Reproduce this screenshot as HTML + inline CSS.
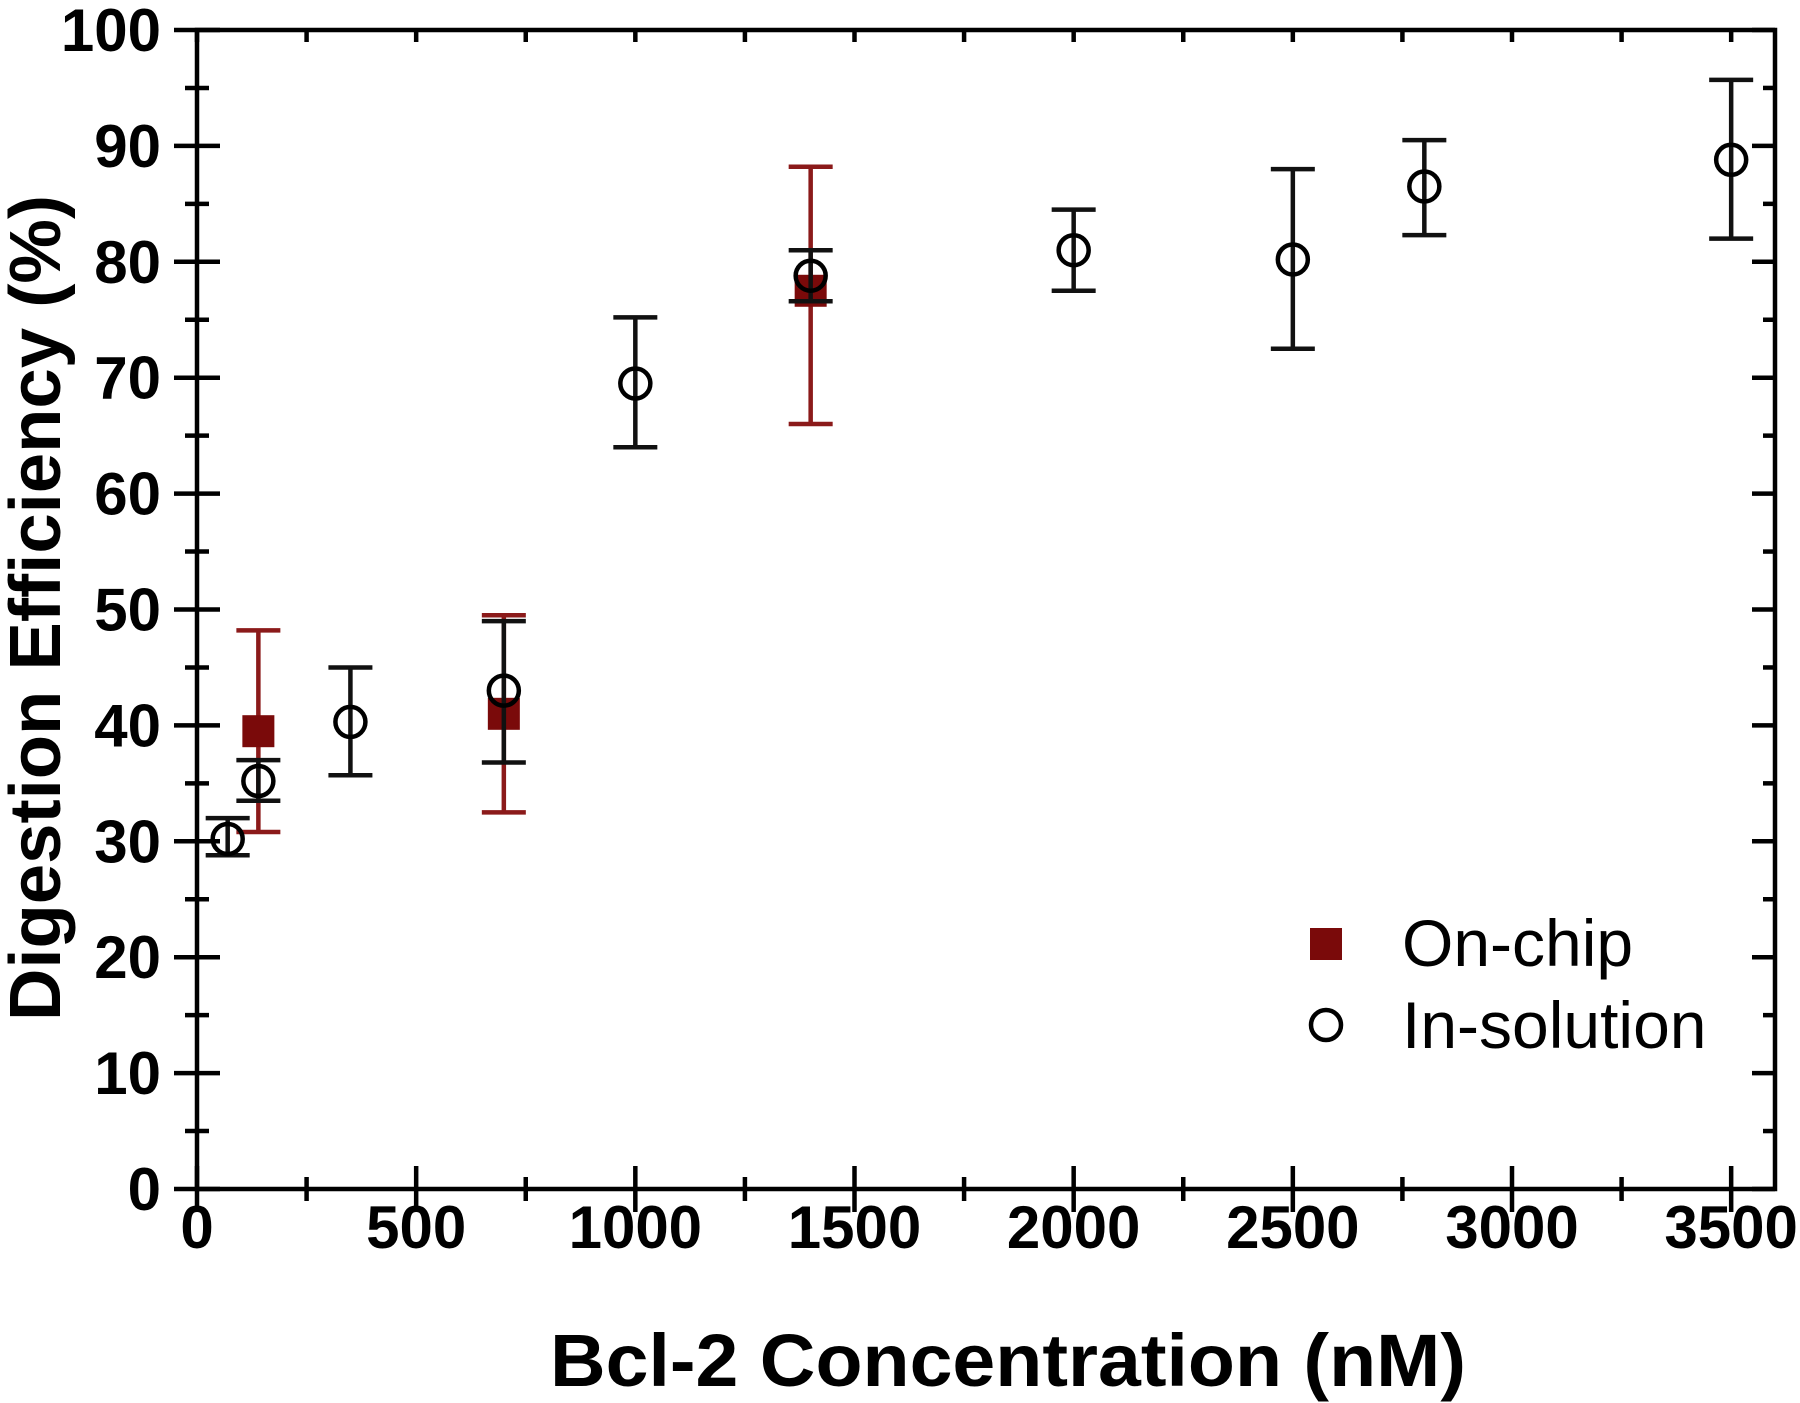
<!DOCTYPE html>
<html><head><meta charset="utf-8"><style>
html,body{margin:0;padding:0;background:#fff;}
svg{display:block;font-family:"Liberation Sans",Arial,sans-serif;}
</style></head><body>
<svg id="chart" width="1800" height="1403" viewBox="0 0 1800 1403">
<g id="axes"></g>
<g id="marks"></g>
<text x="1008" y="1386" text-anchor="middle" font-size="74" font-weight="bold" textLength="916" lengthAdjust="spacingAndGlyphs">Bcl-2 Concentration (nM)</text>
<text transform="translate(60,608) rotate(-90)" text-anchor="middle" font-size="72" font-weight="bold" textLength="826" lengthAdjust="spacingAndGlyphs">Digestion Efficiency (%)</text>
<g>
<rect x="1310" y="928" width="32" height="32" fill="#7a0a0a"/>
<text x="1402" y="966" font-size="66">On-chip</text>
<circle cx="1326" cy="1025" r="15" fill="#fff" stroke="#000" stroke-width="4.5"/>
<text x="1402" y="1048" font-size="66">In-solution</text>
</g>
</svg>
<script>
const solX=[70,140,350,700,1000,1400,2000,2500,2800,3500];
const solY=[30.2,35.2,40.3,43,69.5,78.8,81,80.2,86.5,88.8];
const solLo=[28.8,33.5,35.7,36.8,64,76.6,77.5,72.5,82.3,82];
const solHi=[32,37,45,49,75.2,81,84.5,88,90.5,95.7];
const chipX=[140,700,1400];
const chipY=[39.5,41,77.5];
const chipLo=[30.8,32.5,66];
const chipHi=[48.2,49.5,88.2];
const xTicks=[0,500,1000,1500,2000,2500,3000,3500];
const yTicks=[0,10,20,30,40,50,60,70,80,90,100];
const X0=197,X1=1775,Y0=1189,Y1=30,XMAX=3600,YMAX=100;
const sx=v=>X0+v/XMAX*(X1-X0);
const sy=v=>Y0-v/YMAX*(Y0-Y1);
const NS="http://www.w3.org/2000/svg";
const axes=document.getElementById('axes'),marks=document.getElementById('marks');
function mk(p,tag,at){const e=document.createElementNS(NS,tag);for(const k in at)e.setAttribute(k,at[k]);p.appendChild(e);return e;}
let frame=mk(axes,'rect',{x:X0,y:Y1,width:X1-X0,height:Y0-Y1,fill:'none',stroke:'#000','stroke-width':4.5});


const L=(x1,y1,x2,y2,c,w)=>mk(axes,'line',{x1,y1,x2,y2,stroke:c||'#000','stroke-width':w||4.5});
xTicks.forEach(t=>{const x=sx(t);L(x,Y0-23,x,Y0+23);L(x,Y1,x,Y1+12);
 const tx=mk(axes,'text',{x:x,y:1248,'text-anchor':'middle','font-size':60,'font-weight':'bold'});tx.textContent=t;
 
 
 if(t<3500){const m=sx(t+250);L(m,Y0-12,m,Y0+12);L(m,Y1,m,Y1+12);}});
yTicks.forEach(t=>{const y=sy(t);L(X0-23,y,X0+23,y);L(X1-23,y,X1,y);
 const tx=mk(axes,'text',{x:X0-36,y:y+21,'text-anchor':'end','font-size':60,'font-weight':'bold'});tx.textContent=t;
 
 
 if(t<100){const m=sy(t+5);L(X0-12,m,X0+12,m);L(X1-12,m,X1,m);}});
function errbar(x,lo,hi,c){const g=mk(marks,'g',{stroke:c,'stroke-width':4.5});
 mk(g,'line',{x1:sx(x),y1:sy(lo),x2:sx(x),y2:sy(hi)});
 mk(g,'line',{x1:sx(x)-22,y1:sy(lo),x2:sx(x)+22,y2:sy(lo)});
 mk(g,'line',{x1:sx(x)-22,y1:sy(hi),x2:sx(x)+22,y2:sy(hi)});return g;}
chipX.forEach((x,i)=>{const g=errbar(x,chipLo[i],chipHi[i],'#8b1a1a');
 
 
 const r=mk(marks,'rect',{x:sx(x)-16,y:sy(chipY[i])-16,width:32,height:32,fill:'#7a0a0a'});
 
 });
solX.forEach((x,i)=>{const g=errbar(x,solLo[i],solHi[i],'#111');
 
 
 const c=mk(marks,'circle',{cx:sx(x),cy:sy(solY[i]),r:15,fill:'none',stroke:'#000','stroke-width':4.5});
 
 });
</script>
</body></html>
